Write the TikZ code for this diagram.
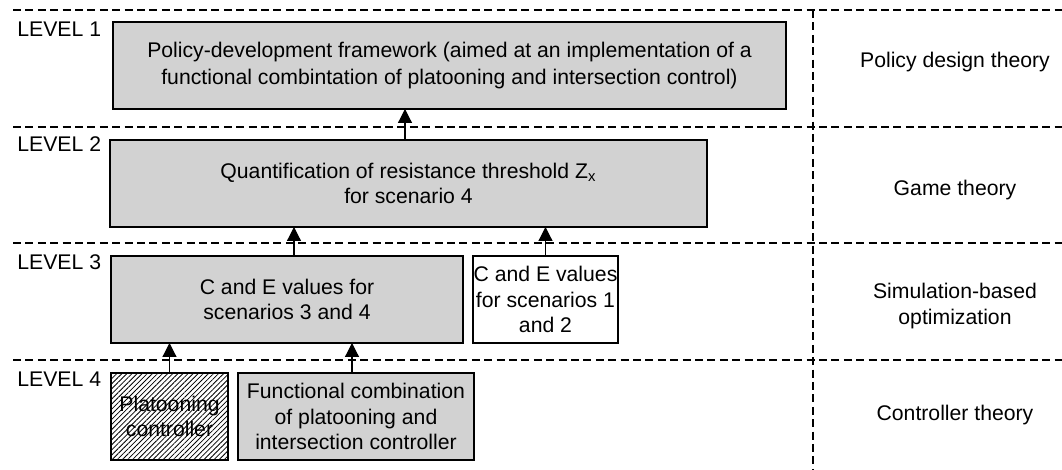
\documentclass[tikz,border=0pt]{standalone}
\usepackage{fontspec}
\setmainfont{Liberation Sans}
\usetikzlibrary{arrows.meta,patterns.meta}

\begin{document}
\begin{tikzpicture}[x=0.5pt,y=-0.5pt,
  font=\fontsize{10.6}{12.8}\selectfont,
  sep/.style={line width=0.6pt,dash pattern=on 4pt off 2.2pt},
  box/.style={draw,line width=0.8pt,inner sep=0pt,outer sep=0pt,
    align=center,anchor=north west,minimum height=43.5pt},
  greybox/.style={box,fill=gray!35},
  hatchbox/.style={box,pattern={Lines[angle=45,distance=1.8pt,line width=0.4pt]}},
  lvl/.style={anchor=base west,inner sep=0pt},
  theory/.style={align=center,inner sep=0pt},
  up/.style={line width=0.6pt,-{Triangle[length=7pt,width=7pt]}}]
\useasboundingbox (0,0) rectangle (1062,470);

% level separators and the theory column
\coordinate (s1w) at (13,10);   \coordinate (s1e) at (1062,10);
\coordinate (s2w) at (13,127);  \coordinate (s2e) at (1062,127);
\coordinate (s3w) at (13,243);  \coordinate (s3e) at (1062,243);
\coordinate (s4w) at (13,360);  \coordinate (s4e) at (1062,360);
\coordinate (vt) at (813,10);   \coordinate (vb) at (813,470);
\draw[sep] (s1w) -- (s1e);
\draw[sep] (s2w) -- (s2e);
\draw[sep] (s3w) -- (s3e);
\draw[sep] (s4w) -- (s4e);
\draw[sep] (vt) -- (vb);

% level labels
\node[lvl] (lv1) at (17,37)  {LEVEL 1};
\node[lvl] (lv2) at (17,152) {LEVEL 2};
\node[lvl] (lv3) at (17,270) {LEVEL 3};
\node[lvl] (lv4) at (17,387) {LEVEL 4};

% boxes
\node[greybox,minimum width=336.5pt,font=\fontsize{10.6}{13.5}\selectfont] (b1) at (113,22)
  {Policy-development framework (aimed at an implementation of a\\
   functional combintation of platooning and intersection control)};
\node[greybox,minimum width=298.5pt] (b2) at (110,140)
  {Quantification of resistance threshold Z\textsubscript{x}\\for scenario 4};
\node[greybox,minimum width=176pt] (b3a) at (111,256)
  {C and E values for\\scenarios 3 and 4};
\node[box,fill=white,minimum width=72.5pt] (b3b) at (473,256)
  {C and E values\\for scenarios 1\\and 2};
\node[hatchbox,minimum width=58.5pt] (b4a) at (111,373)
  {Platooning\\controller};
\node[greybox,minimum width=118pt] (b4b) at (238,373)
  {Functional combination\\of platooning and\\intersection controller};

% connectors
\draw[up] (b2.north -| 405,0) -- (b1.south -| 405,0);
\draw[up] (b3a.north -| 294,0) -- (b2.south -| 294,0);
\draw[up] (b3b.north) -- (b2.south -| b3b.north);
\draw[up] (b4a.north) -- (b3a.south -| b4a.north);
\draw[up] (b4b.north -| 352,0) -- (b3a.south -| 352,0);

% theory labels
\node[theory] (t1) at (955,62)  {Policy design theory};
\node[theory] (t2) at (955,190) {Game theory};
\node[theory] (t3) at (955,306) {Simulation-based\\optimization};
\node[theory] (t4) at (955,415) {Controller theory};
\end{tikzpicture}
\end{document}
